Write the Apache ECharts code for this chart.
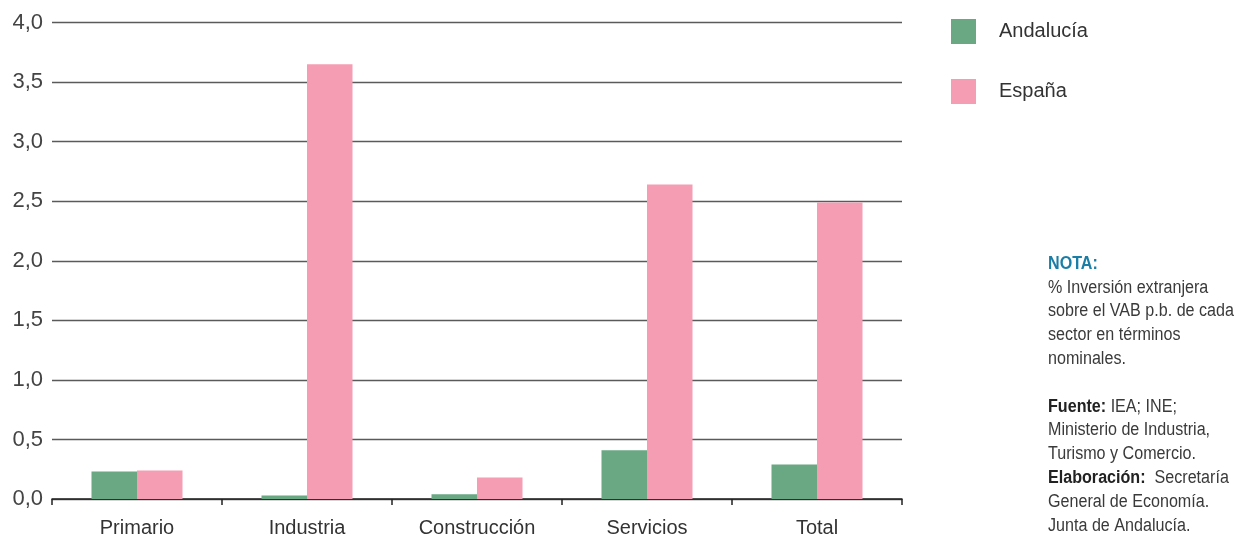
<!DOCTYPE html>
<html><head><meta charset="utf-8">
<script src="https://cdn.jsdelivr.net/npm/echarts@6/dist/echarts.min.js"></script>
<style>html,body{margin:0;padding:0;background:#fff}#c{width:1237px;height:536px}</style>
</head><body><div id="c"></div>
<script>
const categories = ['Primario', 'Industria', 'Construcción', 'Servicios', 'Total'];
const andalucia = [0.23, 0.03, 0.04, 0.41, 0.29];
const espana = [0.24, 3.65, 0.18, 2.64, 2.49];
const seriesNames = ['Andalucía', 'España'];
const yTicks = { min: 0, max: 4, interval: 0.5 };

const FONT = '"Liberation Sans", "Noto Sans", sans-serif';
const chart = echarts.init(document.getElementById('c'));
const noteLines = [
  [{t:'NOTA:', bold:true, color:'#1a7ea6'}],
  [{t:'% Inversión extranjera'}],
  [{t:'sobre el VAB p.b. de cada'}],
  [{t:'sector en términos'}],
  [{t:'nominales.'}],
  [],
  [{t:'Fuente: ', bold:true},{t:'IEA; INE;'}],
  [{t:'Ministerio de Industria,'}],
  [{t:'Turismo y Comercio.'}],
  [{t:'Elaboración: ', bold:true},{t:' Secretaría'}],
  [{t:'General de Economía.'}],
  [{t:'Junta de Andalucía.'}]
];
const LH = 23.8;
const rich = {
  n: {fontFamily: FONT, fontSize: 18, fill: '#3a3a3a', lineHeight: LH},
  b: {fontFamily: FONT, fontSize: 18, fill: '#222', fontWeight: 'bold', lineHeight: LH},
  nb: {fontFamily: FONT, fontSize: 18, fill: '#1a7ea6', fontWeight: 'bold', lineHeight: LH}
};
const noteText = noteLines.map(line => {
  if (!line.length) return '{n| }';
  return line.map(s => {
    const style = s.color ? 'nb' : (s.bold ? 'b' : 'n');
    return '{' + style + '|' + s.t + '}';
  }).join('');
}).join('\n');

chart.setOption({
  animation: false,
  grid: { left: 52, right: 335, top: 22.5, bottom: 37, containLabel: false, outerBoundsMode: 'none' },
  legend: {
    orient: 'vertical', left: 946, top: 14, itemWidth: 25, itemHeight: 25, itemGap: 35,
    icon: 'rect',
    textStyle: { fontFamily: FONT, fontSize: 20, color: '#333', padding: [2,0,0,18] },
    data: seriesNames
  },
  xAxis: {
    type: 'category', data: categories,
    axisLine: { lineStyle: { color: '#222', width: 1.5 } },
    axisTick: { show: true, length: 6, lineStyle: { color: '#222', width: 1.5 } },
    axisLabel: { fontFamily: FONT, fontSize: 20, color: '#333', margin: 19 }
  },
  yAxis: {
    type: 'value', min: yTicks.min, max: yTicks.max, interval: yTicks.interval,
    axisLine: { show: false }, axisTick: { show: false },
    splitLine: { lineStyle: { color: '#5a5a5a', width: 1.4 } },
    axisLabel: {
      fontFamily: FONT, fontSize: 22, color: '#444', margin: 9,
      formatter: v => v.toFixed(1).replace('.', ',')
    }
  },
  series: [
    { name: seriesNames[0], type: 'bar', data: andalucia, barWidth: 45.5, barGap: '0%',
      itemStyle: { color: '#69a882' } },
    { name: seriesNames[1], type: 'bar', data: espana, barWidth: 45.5, barGap: '0%',
      itemStyle: { color: '#f49db3' } }
  ],
  graphic: [{
    type: 'text', x: 1048, y: 252, scaleX: 0.895,
    style: { text: noteText, rich: rich, font: '18px ' + FONT, verticalAlign: 'top', align: 'left' }
  }]
});
</script></body></html>
